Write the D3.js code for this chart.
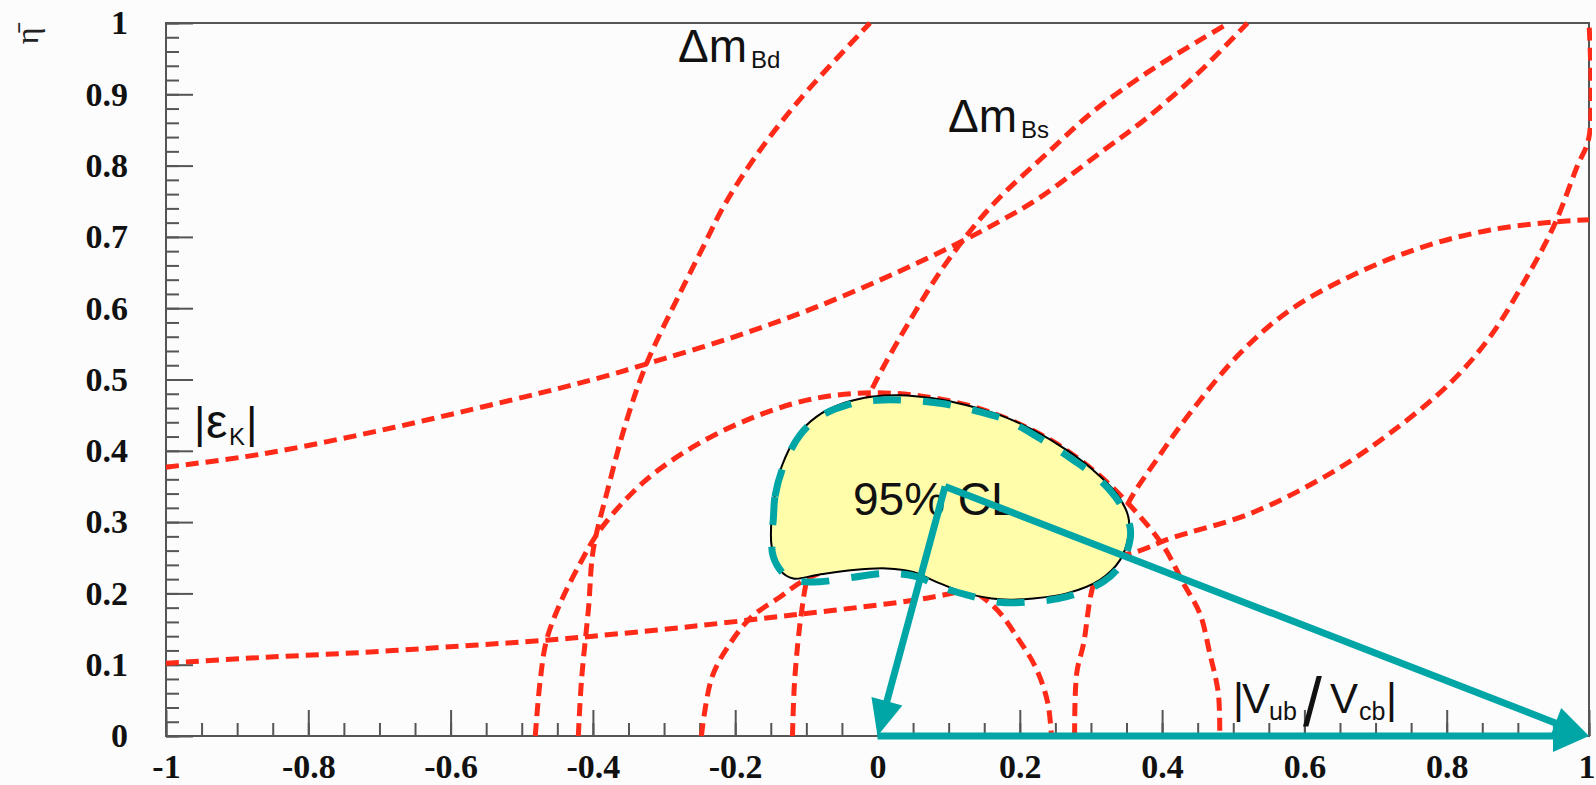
<!DOCTYPE html>
<html>
<head>
<meta charset="utf-8">
<script src="https://cdn.jsdelivr.net/npm/d3@7"></script>
<style>
  html, body { margin: 0; padding: 0; background: #fcfcfc; }
  svg { display: block; }
</style>
</head>
<body>
<svg id="chart" width="1596" height="785"></svg>
<script>
// ---- axis ticks and labels ----
const xTickValues = [-1, -0.8, -0.6, -0.4, -0.2, 0, 0.2, 0.4, 0.6, 0.8, 1];
const xTickLabels = ["-1", "-0.8", "-0.6", "-0.4", "-0.2", "0", "0.2", "0.4", "0.6", "0.8", "1"];
const yTickValues = [0, 0.1, 0.2, 0.3, 0.4, 0.5, 0.6, 0.7, 0.8, 0.9, 1];
const yTickLabels = ["0", "0.1", "0.2", "0.3", "0.4", "0.5", "0.6", "0.7", "0.8", "0.9", "1"];

// ---- constraint bands in the (rho-bar, eta-bar) plane, [rho, eta] ----
// |Vub/Vcb| circles around the origin
const vubOuter = [[-0.481, 0], [-0.474, 0.0785], [-0.465, 0.135], [-0.446, 0.186], [-0.418, 0.242],
  [-0.390, 0.289], [-0.33, 0.355], [-0.26, 0.405], [-0.184, 0.443], [-0.0995, 0.471], [-0.020, 0.481],
  [0.06, 0.477], [0.15, 0.457], [0.24, 0.417], [0.31, 0.367], [0.36, 0.318], [0.402, 0.266],
  [0.430, 0.214], [0.453, 0.172], [0.467, 0.116], [0.479, 0.060], [0.481, 0]];
const vubInner = [[-0.2475, 0], [-0.2325, 0.083], [-0.207, 0.130], [-0.177, 0.167], [-0.137, 0.195],
  [-0.102, 0.219], [-0.05, 0.238], [0, 0.245], [0.05, 0.240], [0.10, 0.224], [0.164, 0.181],
  [0.199, 0.1346], [0.224, 0.0926], [0.2394, 0.0459], [0.2444, 0]];
// Delta m_d circles around (1, 0)
const dmdOuter = [[-0.4205, 0], [-0.416, 0.0785], [-0.406, 0.181], [-0.3995, 0.261], [-0.378, 0.35],
  [-0.3525, 0.443], [-0.3244, 0.5227], [-0.2776, 0.621], [-0.245, 0.686], [-0.2167, 0.742],
  [-0.172, 0.812], [-0.109, 0.893], [-0.0105, 1.0]];
const dmdInner = [[-0.1195, 0], [-0.117, 0.069], [-0.112, 0.130], [-0.107, 0.172], [-0.0994, 0.219],
  [-0.064, 0.35], [-0.0105, 0.481], [0.050, 0.590], [0.097, 0.664], [0.16, 0.743], [0.2424, 0.821],
  [0.3033, 0.876], [0.38, 0.931], [0.453, 0.976], [0.494, 1.0]];
// Delta m_s limit, circle around (1, 0)
const dmsLimit = [[0.277, 0], [0.280, 0.088], [0.2897, 0.130], [0.304, 0.2145], [0.352, 0.326],
  [0.392, 0.387], [0.439, 0.4526], [0.5095, 0.5367], [0.580, 0.5975], [0.6735, 0.649], [0.767, 0.686],
  [0.861, 0.7097], [0.9546, 0.7213], [1.0, 0.724]];
// |epsilon_K| hyperbolas
const epsKUpper = [[-1, 0.377], [-0.868, 0.395], [-0.727, 0.4225], [-0.587, 0.454], [-0.446, 0.488],
  [-0.381, 0.505], [-0.324, 0.522], [-0.207, 0.558], [-0.090, 0.600], [0.027, 0.650], [0.107, 0.688],
  [0.172, 0.722], [0.228, 0.755], [0.313, 0.818], [0.38, 0.868], [0.453, 0.932], [0.52, 1.0]];
const epsKLower = [[-1, 0.102], [-0.868, 0.110], [-0.727, 0.117], [-0.587, 0.126], [-0.470, 0.134],
  [-0.40, 0.140], [-0.2676, 0.153], [-0.117, 0.170], [0.0336, 0.188], [0.094, 0.198], [0.2, 0.222],
  [0.364, 0.2585], [0.411, 0.277], [0.524, 0.312], [0.636, 0.368], [0.720, 0.4245], [0.8046, 0.4947],
  [0.861, 0.560], [0.9077, 0.635], [0.950, 0.714], [0.983, 0.798], [1.0, 0.84], [1.0, 1.0]];

// ---- 95% CL region ----
const clRegion = [[-0.1487, 0.3076], [-0.144, 0.340], [-0.1347, 0.378], [-0.1136, 0.420], [-0.0855, 0.448],
  [-0.048, 0.4666], [-0.0059, 0.476], [0.0316, 0.478], [0.078, 0.4736], [0.1254, 0.464], [0.172, 0.450],
  [0.219, 0.429], [0.266, 0.401], [0.303, 0.373], [0.336, 0.340], [0.3525, 0.3076], [0.3525, 0.2795],
  [0.341, 0.247], [0.3127, 0.219], [0.266, 0.200], [0.219, 0.193], [0.172, 0.1917], [0.1254, 0.200],
  [0.0878, 0.214], [0.050, 0.230], [0.013, 0.235], [-0.034, 0.2328], [-0.0855, 0.2258], [-0.1183, 0.221],
  [-0.137, 0.2328], [-0.1487, 0.2655]];
const clBoundary = [[-0.1465, 0.303], [-0.144, 0.336], [-0.1324, 0.378], [-0.109, 0.422], [-0.0808, 0.448],
  [-0.0433, 0.464], [-0.0011, 0.471], [0.041, 0.471], [0.0878, 0.4666], [0.1346, 0.457], [0.1816, 0.443],
  [0.228, 0.4175], [0.2752, 0.387], [0.3127, 0.359], [0.3408, 0.326], [0.3549, 0.2935], [0.3549, 0.275],
  [0.3432, 0.242], [0.3174, 0.2164], [0.266, 0.1954], [0.219, 0.1884], [0.172, 0.1875], [0.1254, 0.1978],
  [0.0878, 0.2094], [0.055, 0.2234], [0.013, 0.228], [-0.034, 0.2226], [-0.0808, 0.2164], [-0.1136, 0.2178],
  [-0.1324, 0.228], [-0.1465, 0.2515], [-0.1487, 0.2795]];

// ---- unitarity triangle ----
const triApex = [0.095, 0.35];
const triOrigin = [0, 0];
const triCorner = [1, 0];

// ---- styling ----
const RED = "#ff2a18";
const TEAL = "#00a6a6";
const FRAME = "#555555";

const W = 1596, H = 785;
const x = d3.scaleLinear().domain([-1, 1]).range([166, 1589]);
const y = d3.scaleLinear().domain([0, 1]).range([736, 23]);

const svg = d3.select("#chart");
svg.append("rect").attr("width", W).attr("height", H).attr("fill", "#fcfcfc");

const defs = svg.append("defs");
defs.append("clipPath").attr("id", "plotClip")
  .append("rect").attr("x", 163).attr("y", 20).attr("width", 1429).attr("height", 719);

// axes (ticks point into the frame)
const tickFont = "'Liberation Serif', 'Times New Roman', serif";
function styleAxis(g) {
  g.select(".domain").remove();
  g.selectAll(".tick line").attr("stroke", FRAME).attr("stroke-width", 2);
  g.selectAll(".tick text").attr("fill", "#111").attr("font-family", tickFont)
    .attr("font-weight", "bold").attr("font-size", 34);
}
svg.append("g").attr("transform", `translate(${x(-1)},0)`)
  .call(d3.axisLeft(y).tickValues(y.ticks(50)).tickSize(-13).tickFormat(""))
  .call(styleAxis);
svg.append("g").attr("transform", `translate(${x(-1)},0)`)
  .call(d3.axisLeft(y).tickValues(yTickValues).tickSize(-27).tickPadding(38)
    .tickFormat((d, i) => yTickLabels[i]))
  .call(styleAxis);
svg.append("g").attr("transform", `translate(0,${y(0)})`)
  .call(d3.axisBottom(x).tickValues(x.ticks(40)).tickSize(-13).tickFormat(""))
  .call(styleAxis);
const xAxisG = svg.append("g").attr("transform", `translate(0,${y(0)})`)
  .call(d3.axisBottom(x).tickValues(xTickValues).tickSize(-26).tickPadding(18)
    .tickFormat((d, i) => xTickLabels[i]))
  .call(styleAxis);
// the last label sits at the page edge: keep it inside
xAxisG.selectAll(".tick text").filter(d => d === 1)
  .attr("text-anchor", "end").attr("dx", 6);

// frame
svg.append("rect")
  .attr("x", x(-1)).attr("y", y(1))
  .attr("width", x(1) - x(-1)).attr("height", y(0) - y(1))
  .attr("fill", "none").attr("stroke", FRAME).attr("stroke-width", 2);

// y-axis title
svg.append("text")
  .attr("transform", "translate(38,36) rotate(-90)")
  .attr("text-anchor", "middle")
  .attr("font-family", tickFont).attr("font-size", 32).attr("fill", "#222")
  .text("η\u0304");

// constraint curves
const curve = d3.line().x(d => x(d[0])).y(d => y(d[1])).curve(d3.curveCatmullRom.alpha(0.5));
const curvesG = svg.append("g").attr("clip-path", "url(#plotClip)");
[vubOuter, vubInner, dmdOuter, dmdInner, dmsLimit, epsKUpper, epsKLower].forEach(c => {
  curvesG.append("path").attr("d", curve(c))
    .attr("fill", "none").attr("stroke", RED).attr("stroke-width", 5)
    .attr("stroke-dasharray", "13 7");
});

// 95% CL region
const closed = d3.line().x(d => x(d[0])).y(d => y(d[1])).curve(d3.curveCatmullRomClosed.alpha(0.5));
svg.append("path").attr("d", closed(clRegion))
  .attr("fill", "#fffcaa").attr("stroke", "#000").attr("stroke-width", 2);
svg.append("path").attr("d", closed(clBoundary))
  .attr("fill", "none").attr("stroke", TEAL).attr("stroke-width", 7)
  .attr("stroke-dasharray", "28 22");

// labels
const sans = "'Liberation Sans', Arial, Helvetica, sans-serif";
function label(yp, parts) {
  const t = svg.append("text").attr("y", yp)
    .attr("font-family", sans).attr("fill", "#111");
  parts.forEach(p => {
    t.append("tspan").attr("x", p.x).attr("y", yp + (p.dy || 0))
      .attr("font-size", p.size).text(p.text);
  });
  return t;
}
label(62, [{ text: "Δm", size: 46, x: 678 }, { text: "Bd", size: 24, x: 751, dy: 6 }]);
label(132, [{ text: "Δm", size: 46, x: 948 }, { text: "Bs", size: 24, x: 1021, dy: 6 }]);
label(438, [{ text: "|", size: 44, x: 194 }, { text: "ε", size: 48, x: 206 },
  { text: "K", size: 24, x: 229, dy: 7 }, { text: "|", size: 44, x: 246 }]);
label(713, [
  { text: "|", size: 42, x: 1233 }, { text: "V", size: 42, x: 1242 },
  { text: "ub", size: 25, x: 1269, dy: 7 },
  { text: "/", size: 68, x: 1303, dy: 13 },
  { text: "V", size: 42, x: 1330 }, { text: "cb", size: 25, x: 1359, dy: 7 },
  { text: "|", size: 42, x: 1386 }
]);
svg.append("text").attr("x", 853).attr("y", 515)
  .attr("font-family", sans).attr("font-size", 46).attr("fill", "#111")
  .text("95% CL");

// unitarity triangle sides with arrow heads
const headLen = 36, headHalf = 16;
function arrow(from, to) {
  const x0 = x(from[0]), y0 = y(from[1]), x1 = x(to[0]), y1 = y(to[1]);
  const dx = x1 - x0, dy = y1 - y0, len = Math.hypot(dx, dy);
  const ux = dx / len, uy = dy / len;
  const bx = x1 - ux * headLen, by = y1 - uy * headLen;
  svg.append("line").attr("x1", x0).attr("y1", y0).attr("x2", bx + ux * 2).attr("y2", by + uy * 2)
    .attr("stroke", TEAL).attr("stroke-width", 7);
  svg.append("path")
    .attr("d", `M${x1},${y1}L${bx - uy * headHalf},${by + ux * headHalf}L${bx + uy * headHalf},${by - ux * headHalf}Z`)
    .attr("fill", TEAL);
}
arrow(triApex, triOrigin);
arrow(triApex, triCorner);
arrow(triOrigin, triCorner);
</script>
</body>
</html>
